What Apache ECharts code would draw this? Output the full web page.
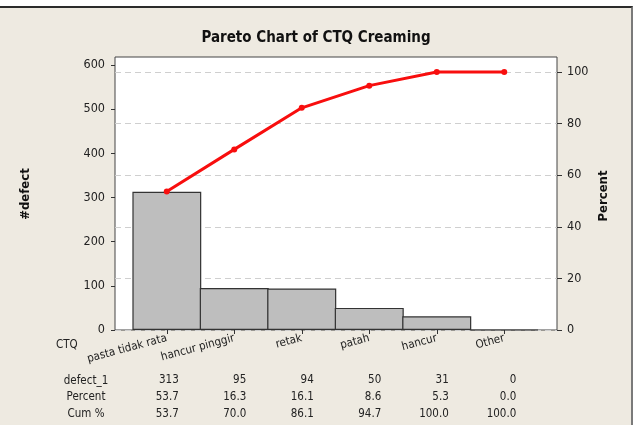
<!DOCTYPE html>
<html>
<head>
<meta charset="utf-8">
<script src="https://cdn.jsdelivr.net/npm/echarts@6/dist/echarts.min.js"></script>
<style>
  html, body { margin: 0; padding: 0; background: #fff; }
  #frame {
    position: absolute; left: 0; top: 6px; width: 633px; height: 425px;
    background: #EEEAE1; border-top: 2px solid #2b2b2b; border-right: 2px solid #7a7a7a;
    box-sizing: border-box;
  }
  #chart { position: absolute; left: 0; top: 0; width: 639px; height: 425px; }
</style>
</head>
<body>
<div id="frame"></div>
<div id="chart"></div>
<script>
// data
const categories = ['pasta tidak rata', 'hancur pinggir', 'retak', 'patah', 'hancur', 'Other']
const defects = [313, 95, 94, 50, 31, 0]
const percent = [53.7, 16.3, 16.1, 8.6, 5.3, 0.0]
const cumPercent = [53.7, 70.0, 86.1, 94.7, 100.0, 100.0]
const countTicks = [0, 100, 200, 300, 400, 500, 600]
const percentTicks = [0, 20, 40, 60, 80, 100]

const font = "'DejaVu Sans Condensed', 'DejaVu Sans', sans-serif"
const countMax = 618
const percentMax = 105.8

const chart = echarts.init(document.getElementById('chart'))

// one table row under the x axis
const tableAxis = (values, margin) => ({
  gridIndex: 2,
  type: 'category',
  data: values,
  position: 'bottom',
  axisLine: { show: false },
  axisTick: { show: false },
  axisLabel: { interval: 0, align: 'right', margin: margin, fontSize: 11.5, color: '#222', fontFamily: font }
})

const option = {
  animation: false,
  grid: [
    { left: 115, right: 82, top: 57, bottom: 95, show: true, backgroundColor: '#fff', borderColor: '#444', borderWidth: 1 },
    { left: 133, right: 101, top: 57, bottom: 95 },
    { left: 145, right: 89, top: 57, bottom: 95 }
  ],
  xAxis: [
    { gridIndex: 0, type: 'value', min: 0, max: 1, show: false },
    {
      gridIndex: 1,
      type: 'category',
      data: categories,
      axisLine: { show: false },
      axisTick: { show: true, alignWithLabel: true, length: 4, lineStyle: { color: '#333' } },
      axisLabel: { interval: 0, rotate: 15, margin: 8, fontSize: 11.5, color: '#222', fontFamily: font }
    },
    tableAxis(defects.map(String), 44),
    tableAxis(percent.map(v => v.toFixed(1)), 61),
    tableAxis(cumPercent.map(v => v.toFixed(1)), 78)
  ],
  yAxis: [
    {
      gridIndex: 0,
      type: 'value',
      position: 'left',
      min: 0,
      max: countMax,
      axisLine: { show: false },
      axisTick: { show: true, length: 4, lineStyle: { color: '#333' }, customValues: countTicks },
      axisLabel: { fontSize: 12.5, color: '#222', margin: 10, fontFamily: font, customValues: countTicks },
      splitLine: { show: false }
    },
    {
      gridIndex: 0,
      type: 'value',
      position: 'right',
      min: 0,
      max: percentMax,
      interval: 20,
      axisLine: { show: false },
      axisTick: { show: true, length: 5, lineStyle: { color: '#333' }, customValues: percentTicks },
      axisLabel: { fontSize: 12.5, color: '#222', margin: 10, fontFamily: font, customValues: percentTicks },
      splitLine: { show: true, lineStyle: { color: '#cfcfcf', type: [6, 4], width: 1 } }
    },
    { gridIndex: 1, type: 'value', min: 0, max: countMax, show: false },
    { gridIndex: 1, type: 'value', min: 0, max: percentMax, show: false },
    { gridIndex: 2, type: 'value', show: false }
  ],
  series: [
    {
      name: 'defect_1',
      type: 'bar',
      xAxisIndex: 1,
      yAxisIndex: 2,
      data: defects,
      barWidth: 69,
      itemStyle: { color: '#BEBEBE', borderColor: '#333', borderWidth: 1.2 }
    },
    {
      name: 'Cum %',
      type: 'line',
      xAxisIndex: 1,
      yAxisIndex: 3,
      data: cumPercent,
      symbol: 'circle',
      symbolSize: 6,
      itemStyle: { color: '#F80E0E' },
      lineStyle: { color: '#F80E0E', width: 3 },
      z: 5
    }
  ],
  graphic: [
    { type: 'text', x: 316, y: 38, style: { text: 'Pareto Chart of CTQ Creaming', align: 'center', verticalAlign: 'middle', fontSize: 15, fontWeight: 'bold', fontFamily: font, fill: '#111' } },
    { type: 'text', x: 26, y: 194, rotation: Math.PI / 2, style: { text: '#defect', align: 'center', verticalAlign: 'middle', fontSize: 13, fontWeight: 'bold', fontFamily: font, fill: '#111' } },
    { type: 'text', x: 604, y: 196, rotation: Math.PI / 2, style: { text: 'Percent', align: 'center', verticalAlign: 'middle', fontSize: 13, fontWeight: 'bold', fontFamily: font, fill: '#111' } },
    { type: 'text', x: 56, y: 345, style: { text: 'CTQ', align: 'left', verticalAlign: 'middle', fontSize: 11.5, fontFamily: font, fill: '#222' } },
    { type: 'text', x: 86, y: 381, style: { text: 'defect_1', align: 'center', verticalAlign: 'middle', fontSize: 11.5, fontFamily: font, fill: '#222' } },
    { type: 'text', x: 86, y: 397, style: { text: 'Percent', align: 'center', verticalAlign: 'middle', fontSize: 11.5, fontFamily: font, fill: '#222' } },
    { type: 'text', x: 86, y: 414, style: { text: 'Cum %', align: 'center', verticalAlign: 'middle', fontSize: 11.5, fontFamily: font, fill: '#222' } }
  ]
}

chart.setOption(option)
</script>
</body>
</html>
